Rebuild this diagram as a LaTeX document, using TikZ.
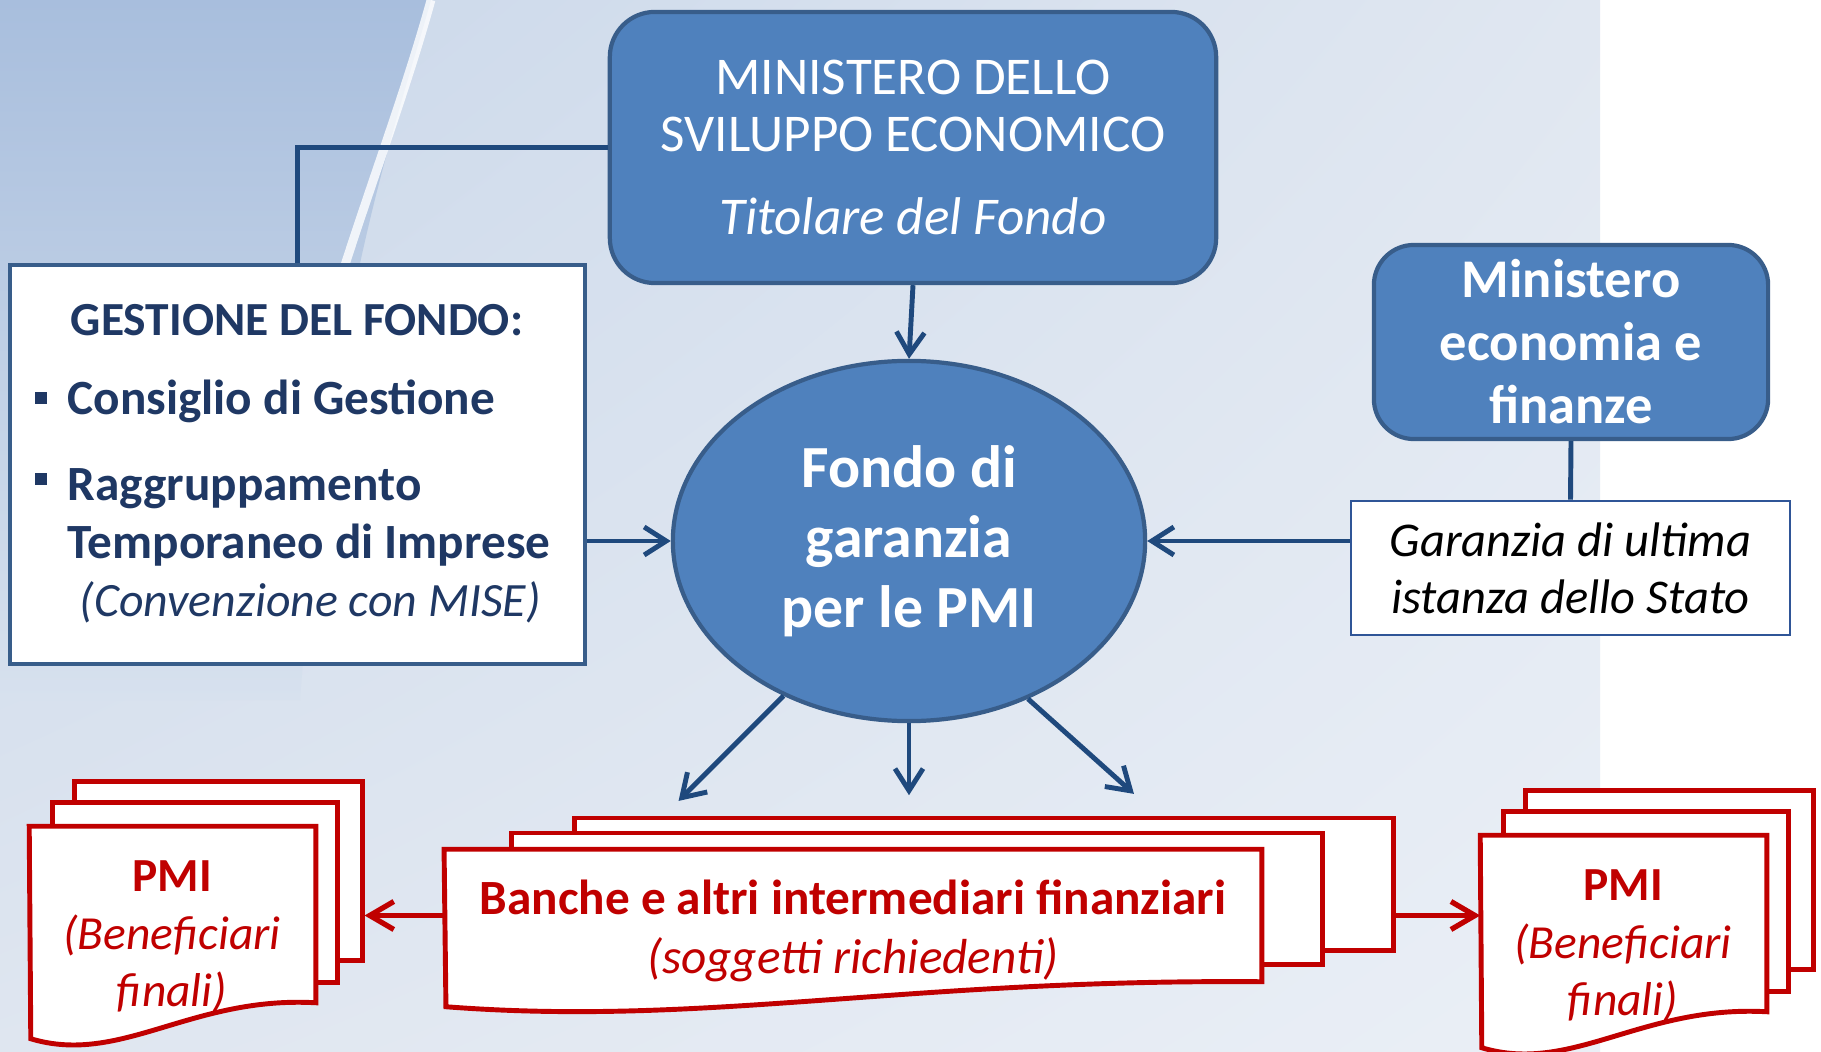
\documentclass[tikz,border=0pt]{standalone}
\usepackage{fontspec}
\setmainfont{Carlito}
\usetikzlibrary{shapes.geometric,arrows.meta,shadings}

\definecolor{fondoblue}{HTML}{4F81BD}
\definecolor{fondoedge}{HTML}{385D8A}
\definecolor{linkblue}{HTML}{1F497D}
\definecolor{gestnavy}{HTML}{1F3864}
\definecolor{pmired}{HTML}{C00000}
\definecolor{garedge}{HTML}{2F5597}
\definecolor{bgdark}{HTML}{A8BEDD}
\definecolor{bgtopleft}{HTML}{C8D6E9}
\definecolor{bgtopright}{HTML}{E0E7F1}
\definecolor{bgbotleft}{HTML}{DFE6F0}
\definecolor{bgbotright}{HTML}{EAEFF6}
\definecolor{bgfade}{HTML}{D7E1EE}

\tikzset{
  bluebox/.style={draw=fondoedge, fill=fondoblue, line width=1.2pt, rounded corners=0.45cm, text=white, align=center},
  whitebox/.style={draw=fondoedge, fill=white, line width=1.2pt},
  notebox/.style={draw=garedge, fill=white, line width=0.7pt, align=center},
  fondoshape/.style={ellipse, draw=fondoedge, fill=fondoblue, line width=1.2pt, text=white, align=center},
  docpage/.style={draw=pmired, fill=white, line width=1.4pt},
  pagetext/.style={text=pmired, align=center},
  gesttext/.style={text=gestnavy, font=\fontsize{14}{16.5}\selectfont\bfseries, inner sep=0pt},
  link/.style={draw=linkblue, line width=1.4pt},
  linkarrow/.style={link, -{Straight Barb[length=2.2mm,width=2.8mm]}},
  redarrow/.style={draw=pmired, line width=1.5pt, -{Straight Barb[length=2.4mm,width=2.8mm]}},
}

\begin{document}
\begin{tikzpicture}[x=0.01cm, y=-0.01cm]
    % background
    \useasboundingbox (0,0) rectangle (1821,1052);
    \fill[white] (0,0) rectangle (1821,1052);
    \shade[upper left=bgtopleft, upper right=bgtopright, lower left=bgbotleft, lower right=bgbotright] (0,0) rectangle (1600,1052);
    \shade[top color=bgdark, bottom color=bgfade] (0,0) -- (431,0) .. controls (395,130) and (330,300) .. (300,700) -- (0,700) -- cycle;
    \draw[white, line width=2.5pt, opacity=0.8] (431,0) .. controls (395,130) and (340,260) .. (300,420);

    % boxes
    \node[bluebox, minimum width=6.06cm, minimum height=2.71cm, font=\fontsize{15.1}{16.2}\selectfont] (mise) at (913,147.5) {MINISTERO DELLO\\SVILUPPO ECONOMICO\\[0.26cm]\textit{Titolare del Fondo}};
    \node[whitebox, minimum width=5.75cm, minimum height=3.99cm] (gestione) at (297.5,464.5) {};
    \node[gesttext, font=\fontsize{13.5}{16}\selectfont\bfseries] (gestTitle) at (297,320) {GESTIONE DEL FONDO:};
    \node[gesttext, anchor=west] (gestA) at (67,401) {Consiglio di Gestione};
    \node[gesttext, anchor=west, align=left] (gestB) at (67,546) {Raggruppamento\\Temporaneo di Imprese\\\hspace*{0.12cm}{\fontsize{13.6}{16.5}\selectfont\itshape\mdseries (Convenzione con MISE)}};
    \foreach \by in {398,479}
        \fill[gestnavy] (35,\by-6) rectangle (47,\by+6);
    \node[fondoshape, minimum width=4.72cm, minimum height=3.60cm, font=\fontsize{17}{19.9}\selectfont\bfseries] (fondo) at (909,541) {Fondo di\\garanzia\\per le PMI};
    \node[bluebox, rounded corners=0.4cm, minimum width=3.94cm, minimum height=1.94cm, font=\fontsize{15.5}{17.9}\selectfont\bfseries] (mef) at (1571,342) {Ministero\\economia e\\finanze};
    \node[notebox, minimum width=4.39cm, minimum height=1.34cm, font=\fontsize{13.8}{16.2}\selectfont\itshape] (garanzia) at (1570.5,568) {Garanzia di ultima\\istanza dello Stato};

    % banche stack
    \node[docpage, minimum width=8.18cm, minimum height=1.32cm] (banche3) at (984,884) {};
    \node[docpage, minimum width=8.10cm, minimum height=1.31cm] (banche2) at (917,898.5) {};
    \node[inner sep=0pt, minimum width=8.16cm, minimum height=1.31cm] (banche) at (853,915.5) {};
    \filldraw[docpage] (banche.north west) -- (banche.north east) -- (banche.south east) .. controls +(-360,-3) and +(261,20) .. +(-816,25) -- cycle;
    \node[pagetext, font=\fontsize{14}{16.8}\selectfont] (bancheT) at (853,931) {\textbf{Banche e altri intermediari finanziari}\\\textit{(soggetti richiedenti)}};

    % pmi stacks
    \foreach \side/\sx/\sy in {L/0/0, R/1451/9}{
        \node[docpage, minimum width=2.87cm, minimum height=1.78cm] (pmi\side3) at (218.5+\sx,871+\sy) {};
        \node[docpage, minimum width=2.84cm, minimum height=1.79cm] (pmi\side2) at (195+\sx,892.5+\sy) {};
        \node[inner sep=0pt, minimum width=2.85cm, minimum height=1.75cm] (pmi\side) at (172.5+\sx,914.5+\sy) {};
        \filldraw[docpage] (pmi\side.north west) -- (pmi\side.north east) -- (pmi\side.south east) .. controls +(-125,-7) and +(90,27) .. +(-285,36) -- cycle;
        \node[pagetext, font=\fontsize{13.5}{16.3}\selectfont] (pmi\side T) at (172+\sx,937+\sy) {\textbf{PMI}\\\textit{(Beneficiari}\\\textit{finali)}};
    }

    % connectors
    \draw[link] (mise.west) -| (gestione.north);
    \draw[linkarrow] (mise.south) -- (fondo.north);
    \draw[linkarrow] (gestione.east |- fondo.west) -- (fondo.west);
    \draw[linkarrow] (garanzia.west |- fondo.east) -- (fondo.east);
    \draw[link] (mef.south) -- (garanzia.north);
    \draw[linkarrow] (fondo.-129) -- +(-105,105);
    \draw[linkarrow] (fondo.south) -- +(0,72);
    \draw[linkarrow] (fondo.-53) -- +(106,95);
    \draw[redarrow] (banche.west) -- (banche.west -| pmiL3.east);
    \draw[redarrow] (banche.west -| banche3.east) -- (banche.west -| pmiR.west);
\end{tikzpicture}
\end{document}
